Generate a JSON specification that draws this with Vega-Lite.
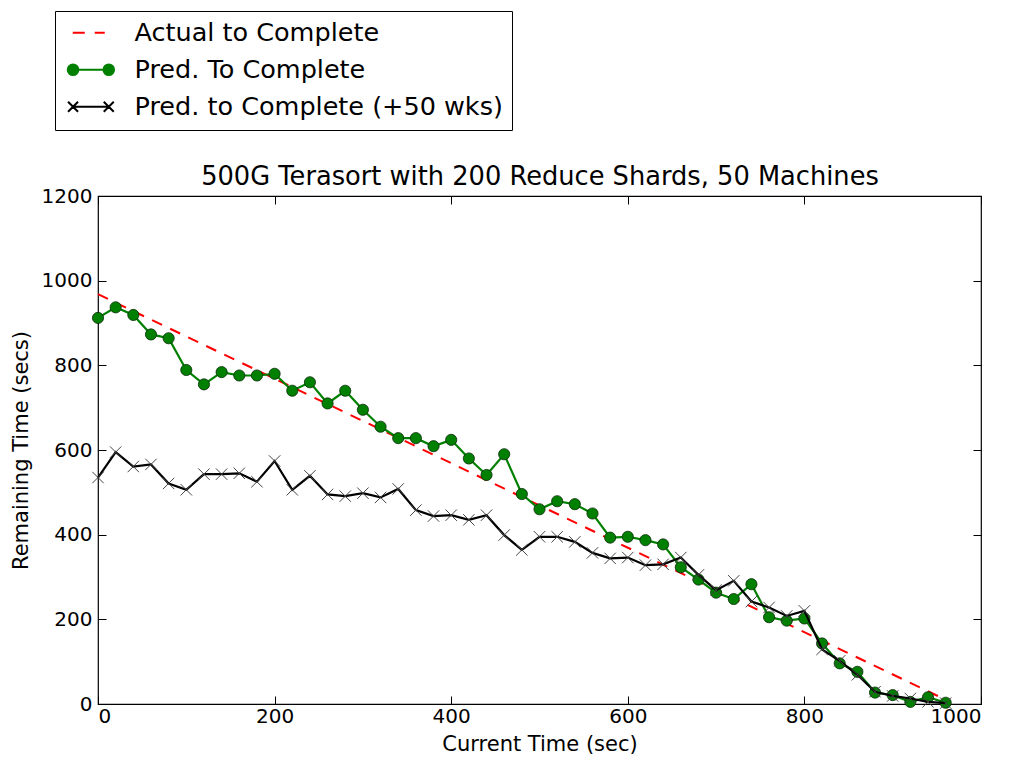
{
  "$schema": "https://vega.github.io/schema/vega-lite/v6.json",
  "width": 883,
  "height": 508,
  "autosize": "none",
  "padding": {"left": 98, "top": 196, "right": 30, "bottom": 53},
  "background": "white",
  "config": {
    "view": {"stroke": "black", "strokeWidth": 1.2},
    "axis": {"grid": false, "domain": false, "labelFont": "DejaVu Sans", "labelFontSize": 20, "labelColor": "black", "titleFont": "DejaVu Sans", "titleFontSize": 21, "titleFontWeight": "normal", "titleColor": "black", "tickColor": "black", "tickSize": -8, "tickWidth": 1, "format": "d"},
    "legend": {"orient": "none", "legendX": -43, "legendY": -185, "padding": 9, "strokeColor": "black", "fillColor": "white", "labelFont": "DejaVu Sans", "labelFontSize": 25.5, "labelColor": "black", "labelLimit": 800, "symbolSize": 400, "symbolStrokeWidth": 2, "labelOffset": 45, "rowPadding": 10, "title": null, "cornerRadius": 0}
  },
  "datasets": {
    "red": [{"t": 0, "v": 968}, {"t": 960, "v": 10}],
    "green": [
      {"t": 0, "v": 912}, {"t": 20, "v": 937}, {"t": 40, "v": 919}, {"t": 60, "v": 873}, {"t": 80, "v": 864},
      {"t": 100, "v": 789}, {"t": 120, "v": 755}, {"t": 140, "v": 784}, {"t": 160, "v": 776}, {"t": 180, "v": 776},
      {"t": 200, "v": 780}, {"t": 220, "v": 740}, {"t": 240, "v": 760}, {"t": 260, "v": 710}, {"t": 280, "v": 740},
      {"t": 300, "v": 695}, {"t": 320, "v": 655}, {"t": 340, "v": 628}, {"t": 360, "v": 628}, {"t": 380, "v": 609},
      {"t": 400, "v": 624}, {"t": 420, "v": 580}, {"t": 440, "v": 541}, {"t": 460, "v": 590}, {"t": 480, "v": 496},
      {"t": 500, "v": 460}, {"t": 520, "v": 479}, {"t": 540, "v": 472}, {"t": 560, "v": 450}, {"t": 580, "v": 393},
      {"t": 600, "v": 395}, {"t": 620, "v": 387}, {"t": 640, "v": 377}, {"t": 660, "v": 323}, {"t": 680, "v": 294},
      {"t": 700, "v": 263}, {"t": 720, "v": 248}, {"t": 740, "v": 283}, {"t": 760, "v": 205}, {"t": 780, "v": 197},
      {"t": 800, "v": 202}, {"t": 820, "v": 143}, {"t": 840, "v": 96}, {"t": 860, "v": 76}, {"t": 880, "v": 27},
      {"t": 900, "v": 21}, {"t": 920, "v": 5}, {"t": 940, "v": 16}, {"t": 960, "v": 3}
    ],
    "black": [
      {"t": 0, "v": 535}, {"t": 20, "v": 595}, {"t": 40, "v": 561}, {"t": 60, "v": 566}, {"t": 80, "v": 521},
      {"t": 100, "v": 506}, {"t": 120, "v": 543}, {"t": 140, "v": 543}, {"t": 160, "v": 545}, {"t": 180, "v": 525},
      {"t": 200, "v": 574}, {"t": 220, "v": 506}, {"t": 240, "v": 539}, {"t": 260, "v": 495}, {"t": 280, "v": 491},
      {"t": 300, "v": 498}, {"t": 320, "v": 488}, {"t": 340, "v": 508}, {"t": 360, "v": 458}, {"t": 380, "v": 444},
      {"t": 400, "v": 446}, {"t": 420, "v": 435}, {"t": 440, "v": 446}, {"t": 460, "v": 399}, {"t": 480, "v": 364},
      {"t": 500, "v": 395}, {"t": 520, "v": 395}, {"t": 540, "v": 383}, {"t": 560, "v": 357}, {"t": 580, "v": 344},
      {"t": 600, "v": 346}, {"t": 620, "v": 328}, {"t": 640, "v": 330}, {"t": 660, "v": 346}, {"t": 680, "v": 305},
      {"t": 700, "v": 269}, {"t": 720, "v": 291}, {"t": 740, "v": 242}, {"t": 760, "v": 228}, {"t": 780, "v": 208},
      {"t": 800, "v": 220}, {"t": 820, "v": 129}, {"t": 840, "v": 102}, {"t": 860, "v": 69}, {"t": 880, "v": 29},
      {"t": 900, "v": 19}, {"t": 920, "v": 13}, {"t": 940, "v": 5}, {"t": 960, "v": 2}
    ],
    "series": [
      {"series": "Actual to Complete"},
      {"series": "Pred. To Complete"},
      {"series": "Pred. to Complete (+50 wks)"}
    ]
  },
  "resolve": {"axis": {"x": "independent", "y": "independent"}},
  "layer": [
    {
      "data": {"name": "red"},
      "mark": {"type": "line", "color": "#ff0000", "strokeWidth": 2, "strokeDash": [11, 9]},
      "encoding": {
        "x": {"field": "t", "type": "quantitative", "scale": {"domain": [0, 1000], "nice": false}, "axis": {"orient": "bottom", "values": [0, 200, 400, 600, 800, 1000], "title": "Current Time (sec)", "labelPadding": 10, "titlePadding": 7}},
        "y": {"field": "v", "type": "quantitative", "scale": {"domain": [0, 1200], "nice": false}, "axis": {"orient": "left", "values": [0, 200, 400, 600, 800, 1000, 1200], "title": "Remaining Time (secs)", "labelPadding": 14, "titlePadding": 10}}
      }
    },
    {
      "data": {"name": "green"},
      "mark": {"type": "line", "color": "#008000", "strokeWidth": 2.2},
      "encoding": {
        "x": {"field": "t", "type": "quantitative", "axis": {"orient": "top", "values": [0, 200, 400, 600, 800, 1000], "labels": false, "title": "500G Terasort with 200 Reduce Shards, 50 Machines", "titleFontSize": 25.7, "titlePadding": 6}},
        "y": {"field": "v", "type": "quantitative", "axis": {"orient": "right", "values": [0, 200, 400, 600, 800, 1000, 1200], "labels": false, "title": null}}
      }
    },
    {
      "data": {"name": "green"},
      "mark": {"type": "point", "shape": "circle", "filled": true, "fill": "#008000", "stroke": "#0a2a0a", "strokeWidth": 0.8, "size": 125, "opacity": 1},
      "encoding": {
        "x": {"field": "t", "type": "quantitative", "axis": null},
        "y": {"field": "v", "type": "quantitative", "axis": null}
      }
    },
    {
      "data": {"name": "black"},
      "mark": {"type": "line", "color": "black", "strokeWidth": 2.2},
      "encoding": {
        "x": {"field": "t", "type": "quantitative", "axis": null},
        "y": {"field": "v", "type": "quantitative", "axis": null}
      }
    },
    {
      "data": {"name": "black"},
      "mark": {"type": "point", "shape": "M-1,-1L1,1M-1,1L1,-1", "filled": false, "stroke": "#444444", "strokeWidth": 1, "size": 130, "opacity": 1},
      "encoding": {
        "x": {"field": "t", "type": "quantitative", "axis": null},
        "y": {"field": "v", "type": "quantitative", "axis": null}
      }
    },
    {
      "data": {"name": "series"},
      "mark": {"type": "point", "filled": true, "opacity": 0},
      "encoding": {
        "shape": {"field": "series", "type": "nominal", "scale": {"domain": ["Actual to Complete", "Pred. To Complete", "Pred. to Complete (+50 wks)"], "range": ["M-0.4,0L0.8,0M1.8,0L2.8,0", "M0.16,0A0.53,0.53,0,1,1,-0.9,0A0.53,0.53,0,1,1,0.16,0ZM-0.37,0L3.2,0M3.73,0A0.53,0.53,0,1,1,2.67,0A0.53,0.53,0,1,1,3.73,0Z", "M-0.87,-0.5L0.13,0.5M-0.87,0.5L0.13,-0.5M-0.37,0L3.2,0M2.7,-0.5L3.7,0.5M2.7,0.5L3.7,-0.5"]}},
        "color": {"field": "series", "type": "nominal", "scale": {"domain": ["Actual to Complete", "Pred. To Complete", "Pred. to Complete (+50 wks)"], "range": ["#ff0000", "#008000", "#000000"]}, "legend": {"encode": {"symbols": {"update": {"opacity": {"value": 1}, "stroke": {"scale": "color", "field": "value"}}}}}}
      }
    }
  ]
}
